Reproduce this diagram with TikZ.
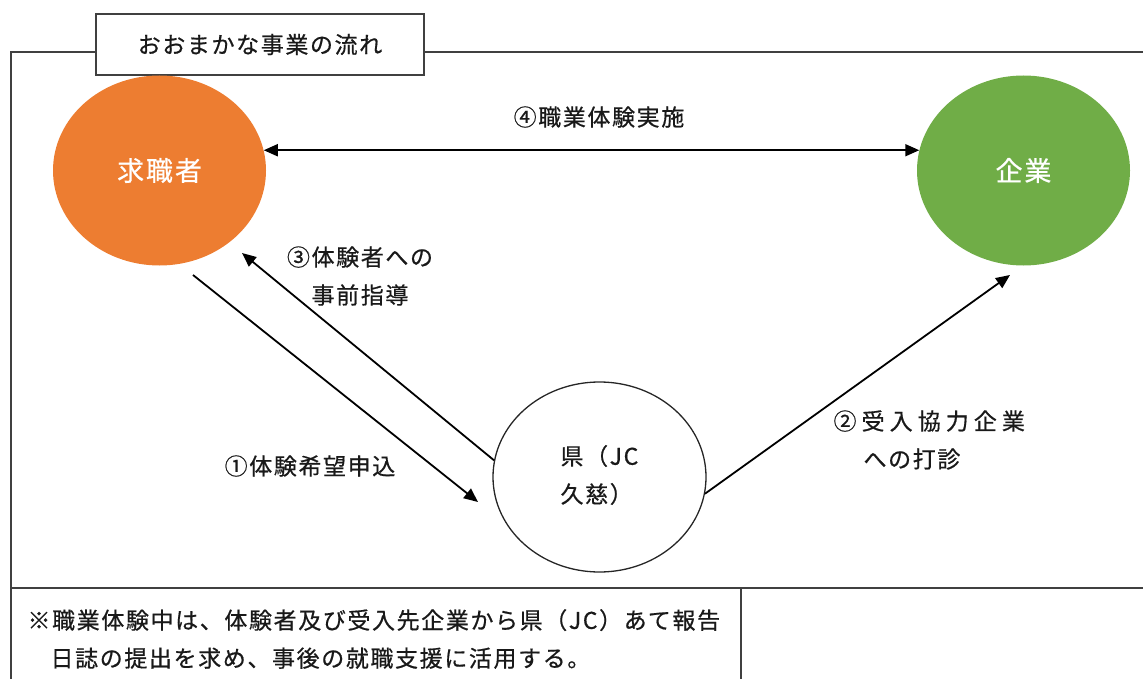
\documentclass[tikz,border=0pt]{standalone}
\usepackage{fontspec}
\setmainfont{Noto Sans CJK JP}[LetterSpace=7,FakeBold=0.6]
\usepackage{tikz}
\usetikzlibrary{calc,shapes.geometric,arrows.meta}
\definecolor{kyuorange}{HTML}{ED7D31}
\definecolor{kigyogreen}{HTML}{70AD47}
\def\ellW{213pt}
\def\ellH{190pt}
\def\tip{Triangle[length=14pt,width=12pt]}
\tikzset{
  party/.style={ellipse,inner sep=0,minimum width=\ellW,minimum height=\ellH},
  party label/.style={text=white,font=\fontsize{27}{30}\selectfont},
  flow/.style={line width=1.8pt,-{\tip}},
  flow label/.style={font=\fontsize{23}{38}\selectfont,align=center,text=black!90},
  frame/.style={draw=black!75,line width=1.6pt}}

\begin{document}
\begin{tikzpicture}[x=1pt,y=-1pt]
\useasboundingbox (0,0) rectangle (1143,679);
% 枠の描画
\draw[frame] (1143,52) -- (11,52) -- (11,679);
\draw[frame] (11,588) -- (1143,588);
\draw[frame] (741,588) -- (741,679);
\node[frame,fill=white,minimum width=328pt,minimum height=61pt,flow label] (ttl) at (260,44.5) {おおまかな事業の流れ};
% 楕円の描画
\node[party,fill=kyuorange,party label] (kyu) at (159.5,170.5) {求職者};
\node[party,fill=kigyogreen,party label] (kig) at (1023.5,170.5) {企業};
\node[party,draw=black!85,line width=1.3pt] (ken) at (599.5,477) {};
\node[flow label,align=left,anchor=west] (kenlbl) at (557,475) {県（JC\\久慈）};
% 座標設定
\coordinate (s1) at (193,275);
\coordinate (e1) at (478,502);
\coordinate (e3) at (242,253);
\coordinate (e2) at (1010,275);
% 矢印の描画
\draw[flow,{\tip}-{\tip}] (kyu.11) -- (kig.169);
\draw[flow] (s1) -- (e1);
\draw[flow] (ken.171) -- (e3);
\draw[flow] (ken.-9) -- (e2);
% ラベルの描画
\node[flow label] (lbl4) at (599,117) {④職業体験実施};
\node[flow label] (lbl3) at (360,276) {③体験者への\\事前指導};
\node[flow label] (lbl1) at (310,466) {①体験希望申込};
\node[flow label,align=left,anchor=west] (lbl2) at (830,440) {{\addfontfeatures{LetterSpace=22}②受入協力企業}\\\hspace*{30pt}への打診};
\node[flow label,align=left,anchor=west] (note) at (24,639) {※職業体験中は、体験者及び受入先企業から県（JC）あて報告\\\hspace*{1em}日誌の提出を求め、事後の就職支援に活用する。};
\end{tikzpicture}
\end{document}
